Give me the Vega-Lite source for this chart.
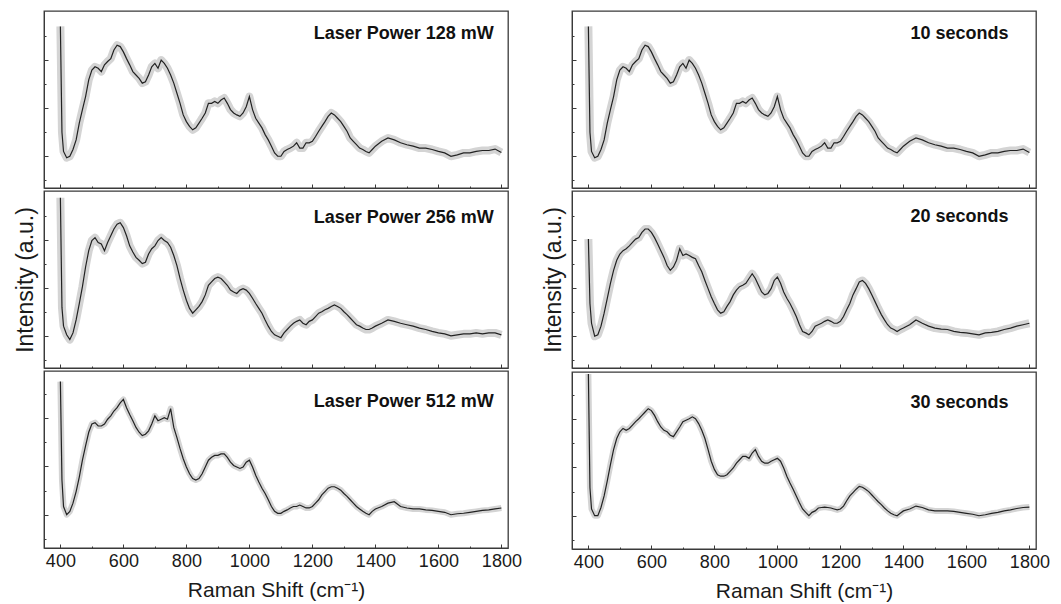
{
"$schema": "https://vega.github.io/schema/vega-lite/v6.json",
"padding": {"left": 13, "top": 10, "right": 5, "bottom": 0},
"config": {"view": {"stroke": "#3a3a3a", "strokeWidth": 1.3}, "font": "Liberation Sans",
 "axis": {"grid": false, "domainColor": "#3a3a3a", "tickColor": "#3a3a3a", "labelFont": "Liberation Sans", "titleFont": "Liberation Sans", "labelFontSize": 18, "titleFontSize": 21, "titleFontWeight": "normal", "labelColor": "#1a1a1a", "titleColor": "#1a1a1a", "format": "d"}},
"data": {"values": [
{"x":400,"a":3.7,"b":3.88,"c":3.76,"d":3.7,"e":3.02,"f":3.94},
{"x":405,"a":1.5,"b":1.6,"c":1.72,"d":1.5,"e":1.68,"f":1.58},
{"x":410,"a":1.10,"b":1.21,"c":1.17,"d":1.10,"e":1.27,"f":1.14},
{"x":420,"a":0.97,"b":1.03,"c":1.0,"d":0.97,"e":1.0,"f":1.0},
{"x":430,"a":1.0,"b":0.93,"c":1.07,"d":1.0,"e":1.03,"f":1.0},
{"x":440,"a":1.14,"b":1.07,"c":1.24,"d":1.14,"e":1.21,"f":1.17},
{"x":450,"a":1.34,"b":1.34,"c":1.48,"d":1.34,"e":1.48,"f":1.41},
{"x":460,"a":1.69,"b":1.68,"c":1.78,"d":1.69,"e":1.79,"f":1.72},
{"x":470,"a":1.97,"b":2.03,"c":2.13,"d":1.97,"e":2.10,"f":2.06},
{"x":480,"a":2.24,"b":2.44,"c":2.43,"d":2.24,"e":2.37,"f":2.37},
{"x":490,"a":2.59,"b":2.78,"c":2.71,"d":2.59,"e":2.58,"f":2.60},
{"x":500,"a":2.79,"b":2.99,"c":2.88,"d":2.79,"e":2.71,"f":2.74},
{"x":510,"a":2.86,"b":3.05,"c":2.91,"d":2.86,"e":2.78,"f":2.81},
{"x":520,"a":2.83,"b":2.95,"c":2.84,"d":2.83,"e":2.82,"f":2.77},
{"x":530,"a":2.76,"b":2.92,"c":2.84,"d":2.76,"e":2.88,"f":2.81},
{"x":540,"a":2.90,"b":2.78,"c":2.88,"d":2.90,"e":2.95,"f":2.88},
{"x":550,"a":2.97,"b":2.95,"c":2.98,"d":2.97,"e":3.02,"f":2.95},
{"x":560,"a":3.03,"b":3.09,"c":3.05,"d":3.03,"e":3.05,"f":3.01},
{"x":570,"a":3.21,"b":3.23,"c":3.15,"d":3.21,"e":3.16,"f":3.08},
{"x":580,"a":3.31,"b":3.33,"c":3.22,"d":3.31,"e":3.23,"f":3.15},
{"x":590,"a":3.28,"b":3.36,"c":3.32,"d":3.28,"e":3.23,"f":3.22},
{"x":600,"a":3.17,"b":3.26,"c":3.39,"d":3.17,"e":3.16,"f":3.18},
{"x":610,"a":3.03,"b":3.09,"c":3.22,"d":3.03,"e":3.05,"f":3.08},
{"x":620,"a":2.90,"b":2.88,"c":3.08,"d":2.90,"e":2.92,"f":2.95},
{"x":630,"a":2.76,"b":2.75,"c":2.95,"d":2.76,"e":2.78,"f":2.84},
{"x":640,"a":2.69,"b":2.64,"c":2.81,"d":2.69,"e":2.64,"f":2.77},
{"x":650,"a":2.62,"b":2.58,"c":2.71,"d":2.62,"e":2.47,"f":2.74},
{"x":660,"a":2.52,"b":2.51,"c":2.64,"d":2.52,"e":2.37,"f":2.67},
{"x":670,"a":2.55,"b":2.54,"c":2.67,"d":2.55,"e":2.44,"f":2.64},
{"x":680,"a":2.69,"b":2.71,"c":2.74,"d":2.69,"e":2.58,"f":2.74},
{"x":690,"a":2.86,"b":2.82,"c":2.88,"d":2.86,"e":2.82,"f":2.84},
{"x":700,"a":2.93,"b":2.88,"c":3.05,"d":2.93,"e":2.68,"f":2.95},
{"x":710,"a":2.83,"b":2.99,"c":2.95,"d":2.83,"e":2.71,"f":2.98},
{"x":720,"a":3.00,"b":3.05,"c":2.98,"d":3.00,"e":2.68,"f":3.01},
{"x":730,"a":2.93,"b":2.99,"c":3.01,"d":2.93,"e":2.64,"f":3.05},
{"x":740,"a":2.83,"b":2.95,"c":2.98,"d":2.83,"e":2.61,"f":3.01},
{"x":750,"a":2.69,"b":2.85,"c":3.2,"d":2.69,"e":2.47,"f":2.91},
{"x":760,"a":2.52,"b":2.68,"c":2.81,"d":2.52,"e":2.34,"f":2.77},
{"x":770,"a":2.31,"b":2.47,"c":2.60,"d":2.31,"e":2.16,"f":2.60},
{"x":780,"a":2.10,"b":2.20,"c":2.37,"d":2.10,"e":1.99,"f":2.37},
{"x":790,"a":1.86,"b":1.96,"c":2.16,"d":1.86,"e":1.82,"f":2.13},
{"x":800,"a":1.72,"b":1.75,"c":1.99,"d":1.72,"e":1.68,"f":1.96},
{"x":810,"a":1.62,"b":1.58,"c":1.85,"d":1.62,"e":1.55,"f":1.85},
{"x":820,"a":1.55,"b":1.48,"c":1.75,"d":1.55,"e":1.48,"f":1.82},
{"x":830,"a":1.59,"b":1.55,"c":1.72,"d":1.59,"e":1.51,"f":1.82},
{"x":840,"a":1.69,"b":1.62,"c":1.75,"d":1.69,"e":1.62,"f":1.85},
{"x":850,"a":1.79,"b":1.72,"c":1.85,"d":1.79,"e":1.72,"f":1.92},
{"x":860,"a":1.90,"b":1.86,"c":1.99,"d":1.90,"e":1.86,"f":1.99},
{"x":870,"a":2.10,"b":2.06,"c":2.13,"d":2.10,"e":1.96,"f":2.09},
{"x":880,"a":2.10,"b":2.13,"c":2.19,"d":2.10,"e":2.03,"f":2.16},
{"x":890,"a":2.14,"b":2.20,"c":2.23,"d":2.14,"e":2.06,"f":2.23},
{"x":900,"a":2.10,"b":2.23,"c":2.23,"d":2.10,"e":2.10,"f":2.23},
{"x":910,"a":2.17,"b":2.20,"c":2.26,"d":2.17,"e":2.20,"f":2.19},
{"x":920,"a":2.21,"b":2.13,"c":2.26,"d":2.21,"e":2.30,"f":2.30},
{"x":930,"a":2.10,"b":2.06,"c":2.19,"d":2.10,"e":2.20,"f":2.37},
{"x":940,"a":1.97,"b":1.96,"c":2.09,"d":1.97,"e":2.06,"f":2.23},
{"x":950,"a":1.90,"b":1.92,"c":2.02,"d":1.90,"e":1.92,"f":2.13},
{"x":960,"a":1.86,"b":1.89,"c":1.99,"d":1.86,"e":1.86,"f":2.09},
{"x":970,"a":1.83,"b":1.96,"c":1.96,"d":1.83,"e":1.89,"f":2.09},
{"x":980,"a":1.90,"b":1.99,"c":1.99,"d":1.90,"e":1.99,"f":2.13},
{"x":990,"a":2.03,"b":1.96,"c":2.09,"d":2.03,"e":2.16,"f":2.16},
{"x":1000,"a":2.24,"b":1.89,"c":2.13,"d":2.24,"e":2.23,"f":2.19},
{"x":1010,"a":1.97,"b":1.79,"c":1.99,"d":1.97,"e":2.10,"f":2.13},
{"x":1020,"a":1.79,"b":1.68,"c":1.82,"d":1.79,"e":1.92,"f":1.99},
{"x":1030,"a":1.69,"b":1.58,"c":1.68,"d":1.69,"e":1.79,"f":1.82},
{"x":1040,"a":1.59,"b":1.48,"c":1.55,"d":1.59,"e":1.68,"f":1.68},
{"x":1050,"a":1.45,"b":1.34,"c":1.44,"d":1.45,"e":1.55,"f":1.55},
{"x":1060,"a":1.34,"b":1.21,"c":1.31,"d":1.34,"e":1.41,"f":1.41},
{"x":1070,"a":1.21,"b":1.10,"c":1.17,"d":1.21,"e":1.24,"f":1.27},
{"x":1080,"a":1.07,"b":1.03,"c":1.07,"d":1.07,"e":1.10,"f":1.14},
{"x":1090,"a":1.0,"b":1.0,"c":1.03,"d":1.0,"e":1.07,"f":1.07},
{"x":1100,"a":1.0,"b":0.97,"c":1.03,"d":1.0,"e":1.03,"f":1.0},
{"x":1110,"a":1.10,"b":1.07,"c":1.07,"d":1.10,"e":1.10,"f":1.07},
{"x":1120,"a":1.14,"b":1.14,"c":1.10,"d":1.14,"e":1.21,"f":1.10},
{"x":1130,"a":1.17,"b":1.21,"c":1.14,"d":1.17,"e":1.24,"f":1.16},
{"x":1140,"a":1.21,"b":1.27,"c":1.17,"d":1.21,"e":1.27,"f":1.17},
{"x":1150,"a":1.28,"b":1.31,"c":1.17,"d":1.28,"e":1.31,"f":1.18},
{"x":1160,"a":1.17,"b":1.34,"c":1.20,"d":1.17,"e":1.34,"f":1.17},
{"x":1170,"a":1.17,"b":1.27,"c":1.17,"d":1.17,"e":1.31,"f":1.16},
{"x":1180,"a":1.28,"b":1.24,"c":1.14,"d":1.28,"e":1.27,"f":1.14},
{"x":1190,"a":1.28,"b":1.31,"c":1.14,"d":1.28,"e":1.27,"f":1.12},
{"x":1200,"a":1.31,"b":1.34,"c":1.17,"d":1.31,"e":1.31,"f":1.14},
{"x":1210,"a":1.41,"b":1.41,"c":1.24,"d":1.41,"e":1.41,"f":1.20},
{"x":1220,"a":1.52,"b":1.48,"c":1.31,"d":1.52,"e":1.55,"f":1.31},
{"x":1230,"a":1.62,"b":1.51,"c":1.41,"d":1.62,"e":1.68,"f":1.41},
{"x":1240,"a":1.72,"b":1.55,"c":1.48,"d":1.72,"e":1.86,"f":1.48},
{"x":1250,"a":1.83,"b":1.58,"c":1.55,"d":1.83,"e":1.99,"f":1.55},
{"x":1260,"a":1.90,"b":1.62,"c":1.58,"d":1.90,"e":2.13,"f":1.61},
{"x":1270,"a":1.86,"b":1.65,"c":1.58,"d":1.86,"e":2.16,"f":1.59},
{"x":1280,"a":1.79,"b":1.62,"c":1.55,"d":1.79,"e":2.10,"f":1.55},
{"x":1290,"a":1.72,"b":1.58,"c":1.51,"d":1.72,"e":1.99,"f":1.50},
{"x":1300,"a":1.62,"b":1.51,"c":1.44,"d":1.62,"e":1.86,"f":1.43},
{"x":1310,"a":1.52,"b":1.45,"c":1.38,"d":1.52,"e":1.72,"f":1.36},
{"x":1320,"a":1.38,"b":1.38,"c":1.31,"d":1.38,"e":1.58,"f":1.29},
{"x":1330,"a":1.31,"b":1.31,"c":1.24,"d":1.31,"e":1.45,"f":1.23},
{"x":1340,"a":1.24,"b":1.24,"c":1.17,"d":1.24,"e":1.34,"f":1.16},
{"x":1350,"a":1.17,"b":1.21,"c":1.12,"d":1.17,"e":1.24,"f":1.10},
{"x":1360,"a":1.14,"b":1.17,"c":1.07,"d":1.14,"e":1.17,"f":1.05},
{"x":1370,"a":1.10,"b":1.14,"c":1.03,"d":1.10,"e":1.14,"f":1.02},
{"x":1380,"a":1.07,"b":1.14,"c":1.0,"d":1.07,"e":1.10,"f":1.0},
{"x":1390,"a":1.14,"b":1.17,"c":1.07,"d":1.14,"e":1.14,"f":1.05},
{"x":1400,"a":1.21,"b":1.21,"c":1.12,"d":1.21,"e":1.17,"f":1.10},
{"x":1420,"a":1.31,"b":1.27,"c":1.17,"d":1.31,"e":1.24,"f":1.14},
{"x":1440,"a":1.38,"b":1.34,"c":1.24,"d":1.38,"e":1.34,"f":1.20},
{"x":1460,"a":1.34,"b":1.31,"c":1.27,"d":1.34,"e":1.27,"f":1.17},
{"x":1480,"a":1.28,"b":1.27,"c":1.17,"d":1.28,"e":1.21,"f":1.12},
{"x":1500,"a":1.24,"b":1.24,"c":1.14,"d":1.24,"e":1.17,"f":1.10},
{"x":1520,"a":1.21,"b":1.21,"c":1.12,"d":1.21,"e":1.15,"f":1.10},
{"x":1540,"a":1.17,"b":1.17,"c":1.12,"d":1.17,"e":1.14,"f":1.10},
{"x":1560,"a":1.17,"b":1.14,"c":1.10,"d":1.17,"e":1.10,"f":1.09},
{"x":1580,"a":1.14,"b":1.10,"c":1.09,"d":1.14,"e":1.08,"f":1.07},
{"x":1600,"a":1.10,"b":1.07,"c":1.07,"d":1.10,"e":1.07,"f":1.05},
{"x":1620,"a":1.07,"b":1.05,"c":1.05,"d":1.07,"e":1.05,"f":1.03},
{"x":1640,"a":1.0,"b":1.01,"c":1.0,"d":1.0,"e":1.03,"f":1.0},
{"x":1660,"a":1.03,"b":1.03,"c":1.02,"d":1.03,"e":1.07,"f":1.02},
{"x":1680,"a":1.07,"b":1.05,"c":1.03,"d":1.07,"e":1.08,"f":1.05},
{"x":1700,"a":1.07,"b":1.05,"c":1.05,"d":1.07,"e":1.10,"f":1.07},
{"x":1720,"a":1.10,"b":1.07,"c":1.07,"d":1.10,"e":1.14,"f":1.10},
{"x":1740,"a":1.12,"b":1.05,"c":1.09,"d":1.12,"e":1.17,"f":1.12},
{"x":1760,"a":1.12,"b":1.07,"c":1.10,"d":1.12,"e":1.21,"f":1.15},
{"x":1780,"a":1.15,"b":1.07,"c":1.12,"d":1.15,"e":1.24,"f":1.17},
{"x":1800,"a":1.08,"b":1.03,"c":1.14,"d":1.08,"e":1.27,"f":1.18}
]},
"hconcat": [
{"spacing": 0, "vconcat": [
 {"width": 464, "height": 177, "resolve": {"axis": {"x": "independent", "y": "independent"}}, "layer": [
  {"mark": {"type": "line", "stroke": "#d4d4d4", "strokeWidth": 8, "strokeJoin": "round"}, "encoding": {
   "x": {"field": "x", "type": "quantitative", "scale": {"domain": [348, 1821], "nice": false, "zero": false}, "axis": {"values": [400,600,800,1000,1200,1400,1600,1800], "tickSize": -4, "labels": false, "title": null}},
   "y": {"field": "a", "type": "quantitative", "scale": {"domain": [0.34, 4.02], "nice": false, "zero": false}, "axis": {"values": [1,2,3], "tickSize": -4, "labels": false, "title": null}}}},
  {"mark": {"type": "line", "stroke": "#222222", "strokeWidth": 1.2}, "encoding": {
   "x": {"field": "x", "type": "quantitative", "axis": {"values": [500,700,900,1100,1300,1500,1700], "tickSize": -2, "labels": false, "domain": false, "title": null, "orient": "bottom"}},
   "y": {"field": "a", "type": "quantitative", "axis": {"values": [0.5,1.5,2.5,3.5], "tickSize": -2, "labels": false, "domain": false, "title": null, "orient": "left"}}}},
  {"data": {"values": [{"x": 1776, "y": 3.55, "t": "Laser Power 128 mW"}]}, "mark": {"type": "text", "align": "right", "baseline": "middle", "fontSize": 18, "fontWeight": "bold", "color": "#111"}, "encoding": {
   "x": {"field": "x", "type": "quantitative", "axis": null}, "y": {"field": "y", "type": "quantitative", "axis": null}, "text": {"field": "t"}}}
 ]},
 {"width": 464, "height": 177, "resolve": {"axis": {"x": "independent", "y": "independent"}}, "layer": [
  {"mark": {"type": "line", "stroke": "#d4d4d4", "strokeWidth": 8, "strokeJoin": "round"}, "encoding": {
   "x": {"field": "x", "type": "quantitative", "scale": {"domain": [348, 1821], "nice": false, "zero": false}, "axis": {"values": [400,600,800,1000,1200,1400,1600,1800], "tickSize": -4, "labels": false, "title": null}},
   "y": {"field": "b", "type": "quantitative", "scale": {"domain": [0.34, 4.02], "nice": false, "zero": false}, "axis": {"values": [1,2,3], "tickSize": -4, "labels": false, "title": "Intensity (a.u.)", "titlePadding": 6, "titleFontSize": 23}}}},
  {"mark": {"type": "line", "stroke": "#222222", "strokeWidth": 1.2}, "encoding": {
   "x": {"field": "x", "type": "quantitative", "axis": {"values": [500,700,900,1100,1300,1500,1700], "tickSize": -2, "labels": false, "domain": false, "title": null, "orient": "bottom"}},
   "y": {"field": "b", "type": "quantitative", "axis": {"values": [0.5,1.5,2.5,3.5], "tickSize": -2, "labels": false, "domain": false, "title": null, "orient": "left"}}}},
  {"data": {"values": [{"x": 1776, "y": 3.45, "t": "Laser Power 256 mW"}]}, "mark": {"type": "text", "align": "right", "baseline": "middle", "fontSize": 18, "fontWeight": "bold", "color": "#111"}, "encoding": {
   "x": {"field": "x", "type": "quantitative", "axis": null}, "y": {"field": "y", "type": "quantitative", "axis": null}, "text": {"field": "t"}}}
 ]},
 {"width": 464, "height": 177, "resolve": {"axis": {"x": "independent", "y": "independent"}}, "layer": [
  {"mark": {"type": "line", "stroke": "#d4d4d4", "strokeWidth": 6, "strokeJoin": "round"}, "encoding": {
   "x": {"field": "x", "type": "quantitative", "scale": {"domain": [348, 1821], "nice": false, "zero": false}, "axis": {"values": [400,600,800,1000,1200,1400,1600,1800], "tickSize": -4, "labelPadding": 8, "title": "Raman Shift (cm⁻¹)", "titlePadding": 9}},
   "y": {"field": "c", "type": "quantitative", "scale": {"domain": [0.31, 3.98], "nice": false, "zero": false}, "axis": {"values": [1,2,3], "tickSize": -4, "labels": false, "title": null}}}},
  {"mark": {"type": "line", "stroke": "#222222", "strokeWidth": 1.2}, "encoding": {
   "x": {"field": "x", "type": "quantitative", "axis": {"values": [500,700,900,1100,1300,1500,1700], "tickSize": -2, "labels": false, "domain": false, "title": null, "orient": "bottom"}},
   "y": {"field": "c", "type": "quantitative", "axis": {"values": [0.5,1.5,2.5,3.5], "tickSize": -2, "labels": false, "domain": false, "title": null, "orient": "left"}}}},
  {"data": {"values": [{"x": 1776, "y": 3.34, "t": "Laser Power 512 mW"}]}, "mark": {"type": "text", "align": "right", "baseline": "middle", "fontSize": 18, "fontWeight": "bold", "color": "#111"}, "encoding": {
   "x": {"field": "x", "type": "quantitative", "axis": null}, "y": {"field": "y", "type": "quantitative", "axis": null}, "text": {"field": "t"}}}
 ]}
]},
{"spacing": 0, "vconcat": [
 {"width": 464, "height": 177, "resolve": {"axis": {"x": "independent", "y": "independent"}}, "layer": [
  {"mark": {"type": "line", "stroke": "#d4d4d4", "strokeWidth": 8, "strokeJoin": "round"}, "encoding": {
   "x": {"field": "x", "type": "quantitative", "scale": {"domain": [348, 1821], "nice": false, "zero": false}, "axis": {"values": [400,600,800,1000,1200,1400,1600,1800], "tickSize": -4, "labels": false, "title": null}},
   "y": {"field": "d", "type": "quantitative", "scale": {"domain": [0.34, 4.02], "nice": false, "zero": false}, "axis": {"values": [1,2,3], "tickSize": -4, "labels": false, "title": null}}}},
  {"mark": {"type": "line", "stroke": "#222222", "strokeWidth": 1.2}, "encoding": {
   "x": {"field": "x", "type": "quantitative", "axis": {"values": [500,700,900,1100,1300,1500,1700], "tickSize": -2, "labels": false, "domain": false, "title": null, "orient": "bottom"}},
   "y": {"field": "d", "type": "quantitative", "axis": {"values": [0.5,1.5,2.5,3.5], "tickSize": -2, "labels": false, "domain": false, "title": null, "orient": "left"}}}},
  {"data": {"values": [{"x": 1734, "y": 3.55, "t": "10 seconds"}]}, "mark": {"type": "text", "align": "right", "baseline": "middle", "fontSize": 18, "fontWeight": "bold", "color": "#111"}, "encoding": {
   "x": {"field": "x", "type": "quantitative", "axis": null}, "y": {"field": "y", "type": "quantitative", "axis": null}, "text": {"field": "t"}}}
 ]},
 {"width": 464, "height": 177, "resolve": {"axis": {"x": "independent", "y": "independent"}}, "layer": [
  {"mark": {"type": "line", "stroke": "#d4d4d4", "strokeWidth": 8, "strokeJoin": "round"}, "encoding": {
   "x": {"field": "x", "type": "quantitative", "scale": {"domain": [348, 1821], "nice": false, "zero": false}, "axis": {"values": [400,600,800,1000,1200,1400,1600,1800], "tickSize": -4, "labels": false, "title": null}},
   "y": {"field": "e", "type": "quantitative", "scale": {"domain": [0.34, 4.02], "nice": false, "zero": false}, "axis": {"values": [1,2,3], "tickSize": -4, "labels": false, "title": "Intensity (a.u.)", "titlePadding": 6, "titleFontSize": 23}}}},
  {"mark": {"type": "line", "stroke": "#222222", "strokeWidth": 1.2}, "encoding": {
   "x": {"field": "x", "type": "quantitative", "axis": {"values": [500,700,900,1100,1300,1500,1700], "tickSize": -2, "labels": false, "domain": false, "title": null, "orient": "bottom"}},
   "y": {"field": "e", "type": "quantitative", "axis": {"values": [0.5,1.5,2.5,3.5], "tickSize": -2, "labels": false, "domain": false, "title": null, "orient": "left"}}}},
  {"data": {"values": [{"x": 1734, "y": 3.47, "t": "20 seconds"}]}, "mark": {"type": "text", "align": "right", "baseline": "middle", "fontSize": 18, "fontWeight": "bold", "color": "#111"}, "encoding": {
   "x": {"field": "x", "type": "quantitative", "axis": null}, "y": {"field": "y", "type": "quantitative", "axis": null}, "text": {"field": "t"}}}
 ]},
 {"width": 464, "height": 177, "resolve": {"axis": {"x": "independent", "y": "independent"}}, "layer": [
  {"mark": {"type": "line", "stroke": "#d4d4d4", "strokeWidth": 6, "strokeJoin": "round"}, "encoding": {
   "x": {"field": "x", "type": "quantitative", "scale": {"domain": [348, 1821], "nice": false, "zero": false}, "axis": {"values": [400,600,800,1000,1200,1400,1600,1800], "tickSize": -4, "labelPadding": 8, "title": "Raman Shift (cm⁻¹)", "titlePadding": 9}},
   "y": {"field": "f", "type": "quantitative", "scale": {"domain": [0.31, 3.98], "nice": false, "zero": false}, "axis": {"values": [1,2,3], "tickSize": -4, "labels": false, "title": null}}}},
  {"mark": {"type": "line", "stroke": "#222222", "strokeWidth": 1.2}, "encoding": {
   "x": {"field": "x", "type": "quantitative", "axis": {"values": [500,700,900,1100,1300,1500,1700], "tickSize": -2, "labels": false, "domain": false, "title": null, "orient": "bottom"}},
   "y": {"field": "f", "type": "quantitative", "axis": {"values": [0.5,1.5,2.5,3.5], "tickSize": -2, "labels": false, "domain": false, "title": null, "orient": "left"}}}},
  {"data": {"values": [{"x": 1734, "y": 3.34, "t": "30 seconds"}]}, "mark": {"type": "text", "align": "right", "baseline": "middle", "fontSize": 18, "fontWeight": "bold", "color": "#111"}, "encoding": {
   "x": {"field": "x", "type": "quantitative", "axis": null}, "y": {"field": "y", "type": "quantitative", "axis": null}, "text": {"field": "t"}}}
 ]}
]}
],
"spacing": 18
}
